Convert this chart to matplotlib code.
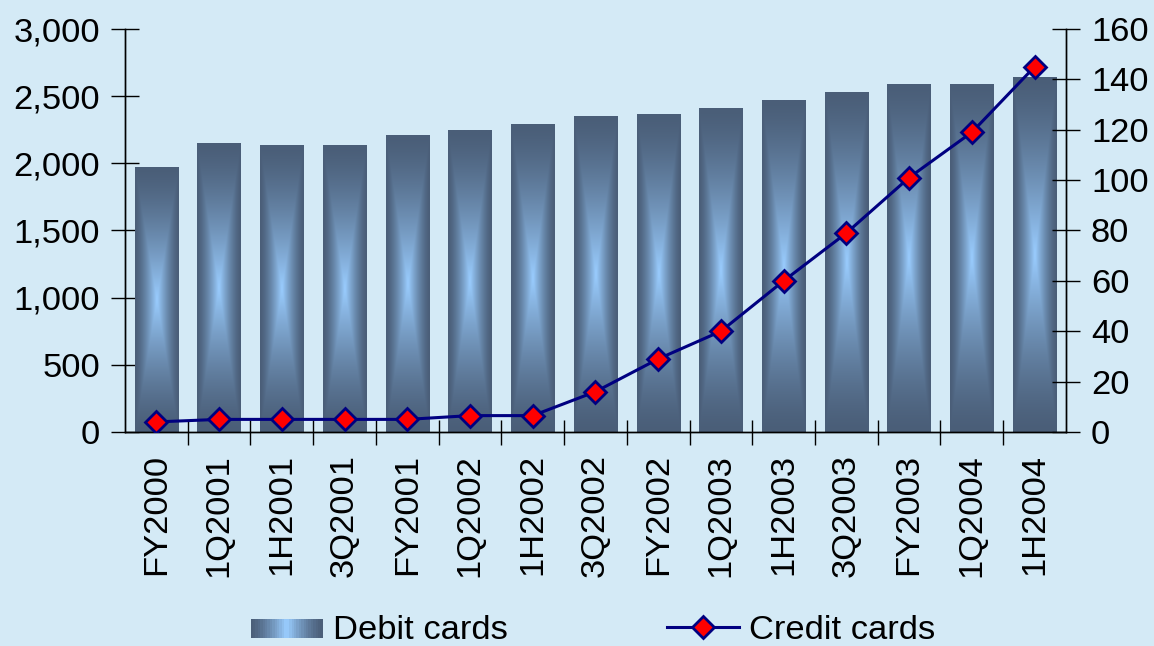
import numpy as np
import matplotlib
matplotlib.use("Agg")
import matplotlib.pyplot as plt
from matplotlib.patches import Rectangle
from matplotlib.lines import Line2D
from matplotlib.legend_handler import HandlerBase
from matplotlib.ticker import FuncFormatter, FixedLocator

# Card counts per reporting period
periods = ["FY2000", "1Q2001", "1H2001", "3Q2001", "FY2001", "1Q2002", "1H2002",
           "3Q2002", "FY2002", "1Q2003", "1H2003", "3Q2003", "FY2003", "1Q2004", "1H2004"]
debit_cards = [1970, 2150, 2135, 2130, 2210, 2245, 2290,
               2350, 2365, 2410, 2470, 2530, 2590, 2590, 2640]
credit_cards = [4, 5, 5, 5, 5, 6.5, 6.5, 16, 29, 40, 60, 79, 101, 119, 145]

BG = "#d4eaf6"
DARK = np.array([74, 94, 120]) / 255
LIGHT = np.array([154, 205, 255]) / 255

plt.rcParams["font.family"] = ["Liberation Sans", "DejaVu Sans"]
FS = 24.8


def gradient_rgb(nx=60, ny=240, power=1.4):
    u = np.abs(np.linspace(-1, 1, nx))[None, :]
    v = np.abs(np.linspace(-1, 1, ny))[:, None]
    f = (1 - np.maximum(u, v)) ** power
    return DARK + (LIGHT - DARK) * f[..., None]


class GradientHandler(HandlerBase):
    """Legend box filled with the same dark-edge / light-centre shading."""
    def create_artists(self, legend, orig_handle, xdescent, ydescent,
                       width, height, fontsize, trans):
        n = 30
        h = height * 0.8
        y0 = -ydescent + (height - h) / 2 - height * 0.08
        arts = []
        for i in range(n):
            t = (i + 0.5) / n
            f = (1 - abs(2 * t - 1)) ** 1.4
            c = DARK + (LIGHT - DARK) * f
            arts.append(Rectangle((-xdescent + width * i / n, y0), width / n * 1.05, h,
                                  facecolor=c, edgecolor="none", transform=trans))
        return arts


fig = plt.figure(figsize=(11.54, 6.46), dpi=100, facecolor=BG)
ax = fig.add_axes([0.1083, 0.3313, 0.8154, 0.6238])
ax.set_facecolor(BG)

x = np.arange(len(periods))
bars = ax.bar(x, debit_cards, width=0.69, color="none", edgecolor="none", zorder=2)
grad = gradient_rgb()
for b in bars:
    x0, y0 = b.get_x(), b.get_y()
    ax.imshow(grad, extent=[x0, x0 + b.get_width(), y0, y0 + b.get_height()],
              aspect="auto", interpolation="bilinear", zorder=2, origin="lower")

ax.set_xlim(-0.5, len(periods) - 0.5)
ax.set_ylim(0, 3000)
ax.set_yticks(np.arange(0, 3001, 500))
ax.yaxis.set_major_formatter(FuncFormatter(lambda v, p: f"{int(v):,}"))

ax2 = ax.twinx()
ax2.plot(x, credit_cards, color="#000080", lw=2.2, marker="D", markersize=11,
         markerfacecolor="#ff0000", markeredgecolor="#000080", markeredgewidth=2, zorder=3)
ax2.set_ylim(0, 160)
ax2.set_yticks(np.arange(0, 161, 20))

# category labels at bar centres, tick marks between categories
ax.set_xticks(x)
ax.set_xticklabels(periods, rotation=90, fontsize=FS)
ax.tick_params(axis="x", which="major", length=0, pad=16)
ax.xaxis.set_minor_locator(FixedLocator(np.arange(0.5, len(periods) - 1, 1)))
ax.tick_params(axis="x", which="minor", direction="inout", length=18, width=1, color="black")

ax.tick_params(axis="y", direction="inout", length=20, width=1, labelsize=FS, pad=8)
ax2.tick_params(axis="y", direction="inout", length=20, width=1, labelsize=FS, pad=8)

for a in (ax, ax2):
    a.spines["top"].set_visible(False)
    for s in ("left", "right", "bottom"):
        a.spines[s].set_color("black")
        a.spines[s].set_linewidth(1)

debit_proxy = Rectangle((0, 0), 1, 1)
credit_proxy = Line2D([], [], color="#000080", lw=2.2, marker="D", markersize=11,
                      markerfacecolor="#ff0000", markeredgecolor="#000080", markeredgewidth=2)
fig.legend([debit_proxy, credit_proxy], ["Debit cards", "Credit cards"],
           handler_map={debit_proxy: GradientHandler()},
           loc="center", bbox_to_anchor=(593 / 1154, 1 - 630 / 646), ncol=2,
           frameon=False, fontsize=FS, handlelength=2.1, handletextpad=0.3,
           columnspacing=4.6)

fig.savefig("out.png", dpi=100, facecolor=BG)
